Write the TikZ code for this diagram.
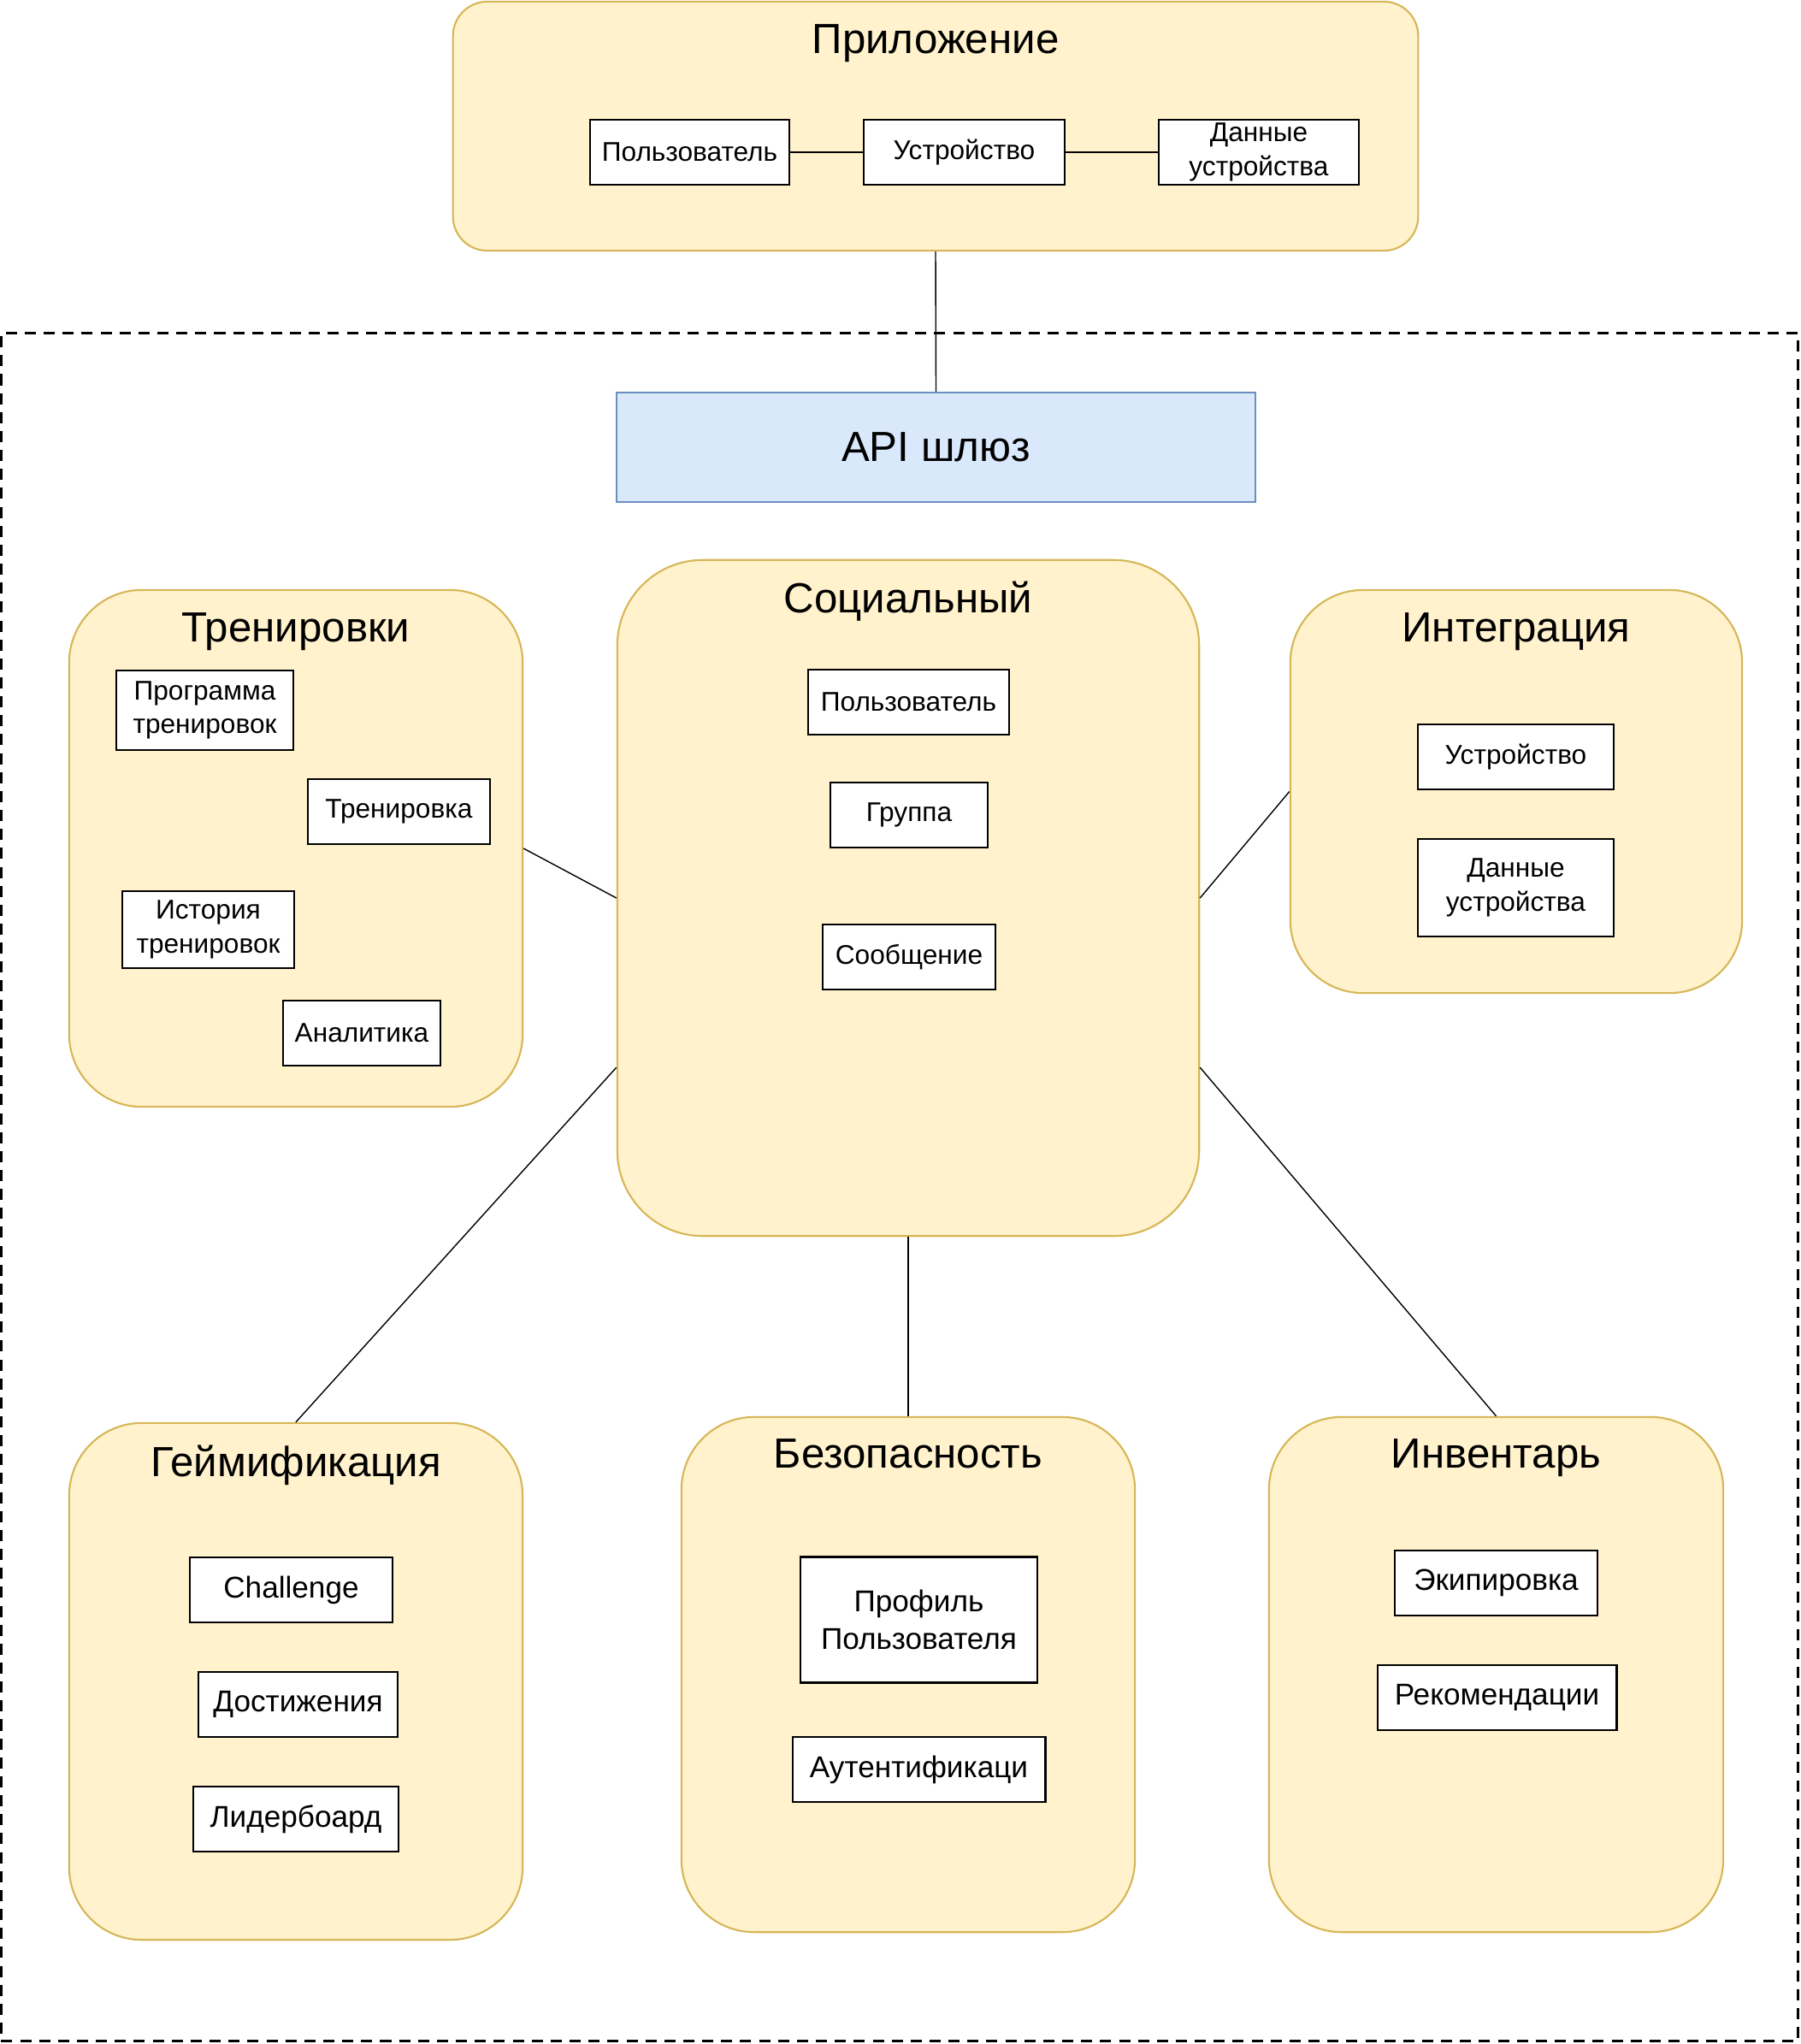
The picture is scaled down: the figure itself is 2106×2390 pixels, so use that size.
\documentclass[tikz,border=0pt]{standalone}
\usepackage{fontspec}
\setmainfont{Liberation Sans}
\usetikzlibrary{positioning,calc}
\definecolor{svcfill}{HTML}{FFF2CC}
\definecolor{svcline}{HTML}{D6B656}
\definecolor{apifill}{HTML}{DAE8FC}
\definecolor{apiline}{HTML}{6C8EBF}
\tikzset{service/.style = {draw=svcline, fill=svcfill, line width=0.6pt, inner sep=0pt, rounded corners=0.85cm}}
\tikzset{svctitle/.style = {inner sep=0pt, font=\fontsize{14}{17}\selectfont}}
\tikzset{entity/.style = {draw, fill=white, line width=0.8pt, align=center, inner sep=0pt, minimum height=0.76cm, font=\fontsize{9}{11.3}\selectfont}}
\tikzset{bigentity/.style = {entity, font=\fontsize{10}{12.6}\selectfont}}
\tikzset{wire/.style = {line width=0.4pt}}

\begin{document}
\begin{tikzpicture}[x=0.01cm, y=-0.01cm]
  \useasboundingbox (0,0) rectangle (2106,2390);

  % backend frame
  \node [draw, dashed, dash pattern=on 3.7pt off 2.6pt, line width=0.8pt, minimum width=21cm, minimum height=19.96cm, inner sep=0pt] (backend) at (1052,1388) {};

  % client application
  \node [service, rounded corners=0.4cm, minimum width=11.28cm, minimum height=2.91cm] (app) at (1094,147.5) {};
  \node [svctitle, below=0.27cm of app.north] (app-t) {Приложение};
  \node [entity, minimum width=2.33cm] (app-user) at (806.5,178) {Пользователь};
  \node [entity, minimum width=2.35cm] (app-dev) at (1127.5,178) {Устройство};
  \node [entity, minimum width=2.34cm] (app-data) at (1472,178) {Данные\\устройства};

  \draw [wire] (app-user) -- (app-dev);
  \draw [wire] (app-dev) -- (app-data);

  % gateway
  \node [draw=apiline, fill=apifill, line width=0.6pt, minimum width=7.47cm, minimum height=1.28cm, font=\fontsize{14}{17}\selectfont] (api) at (1094.5,523) {API шлюз};
  \draw [wire] (app.south) -- (api.north);

  % social
  \node [service, rounded corners=1cm, minimum width=6.8cm, minimum height=7.9cm] (soc) at (1062,1050) {};
  \node [svctitle, below=0.26cm of soc.north] (soc-t) {Социальный};
  \node [entity, minimum width=2.35cm] (soc-user) at (1062.5,821) {Пользователь};
  \node [entity, minimum width=1.84cm] (soc-group) at (1063,953) {Группа};
  \node [entity, minimum width=2.02cm] (soc-msg) at (1063,1119) {Сообщение};

  % trainings
  \node [service, minimum width=5.3cm, minimum height=6.04cm] (train) at (346,992) {};
  \node [svctitle, below=0.27cm of train.north] (train-t) {Тренировки};
  \node [entity, minimum width=2.07cm, minimum height=0.93cm] (train-prog) at (239.5,830.5) {Программа\\тренировок};
  \node [entity, minimum width=2.13cm] (train-one) at (466.5,949) {Тренировка};
  \node [entity, minimum width=2.01cm, minimum height=0.9cm] (train-hist) at (243.5,1087) {История\\тренировок};
  \node [entity, minimum width=1.84cm] (train-stat) at (423,1208) {Аналитика};

  % integration
  \node [service, minimum width=5.28cm, minimum height=4.71cm] (integ) at (1773,925.5) {};
  \node [svctitle, below=0.27cm of integ.north] (integ-t) {Интеграция};
  \node [entity, minimum width=2.29cm] (integ-dev) at (1772.5,885) {Устройство};
  \node [entity, minimum width=2.29cm, minimum height=1.14cm] (integ-data) at (1772.5,1038) {Данные\\устройства};

  % gamification
  \node [service, minimum width=5.3cm, minimum height=6.04cm] (gamif) at (346,1966) {};
  \node [svctitle, below=0.26cm of gamif.north] (gamif-t) {Геймификация};
  \node [bigentity, minimum width=2.37cm] (gamif-ch) at (340.5,1859) {Challenge};
  \node [bigentity, minimum width=2.33cm] (gamif-ach) at (348.5,1993) {Достижения};
  \node [bigentity, minimum width=2.4cm] (gamif-lead) at (346,2127) {Лидербоард};

  % security
  \node [service, minimum width=5.3cm, minimum height=6.02cm] (secur) at (1062,1958) {};
  \node [svctitle, below=0.26cm of secur.north] (secur-t) {Безопасность};
  \node [bigentity, minimum width=2.77cm, minimum height=1.47cm] (secur-prof) at (1074.5,1894) {Профиль\\Пользователя};
  \node [bigentity, minimum width=2.95cm] (secur-auth) at (1074.5,2069) {Аутентификаци};

  % inventory
  \node [service, minimum width=5.31cm, minimum height=6.02cm] (invent) at (1749.5,1958) {};
  \node [svctitle, below=0.26cm of invent.north] (invent-t) {Инвентарь};
  \node [bigentity, minimum width=2.37cm] (invent-eq) at (1749.5,1851) {Экипировка};
  \node [bigentity, minimum width=2.79cm] (invent-rec) at (1750.5,1985) {Рекомендации};

  % links between services
  \coordinate (soc-lw) at ($(soc.north west)!0.75!(soc.south west)$);
  \coordinate (soc-rw) at ($(soc.north east)!0.75!(soc.south east)$);
  \draw [wire] (train.east) -- (soc.west);
  \draw [wire] (soc.east) -- (integ.west);
  \draw [wire] (soc-lw) -- (gamif.north);
  \draw [wire] (soc.south) -- (secur.north);
  \draw [wire] (soc-rw) -- (invent.north);
\end{tikzpicture}
\end{document}
